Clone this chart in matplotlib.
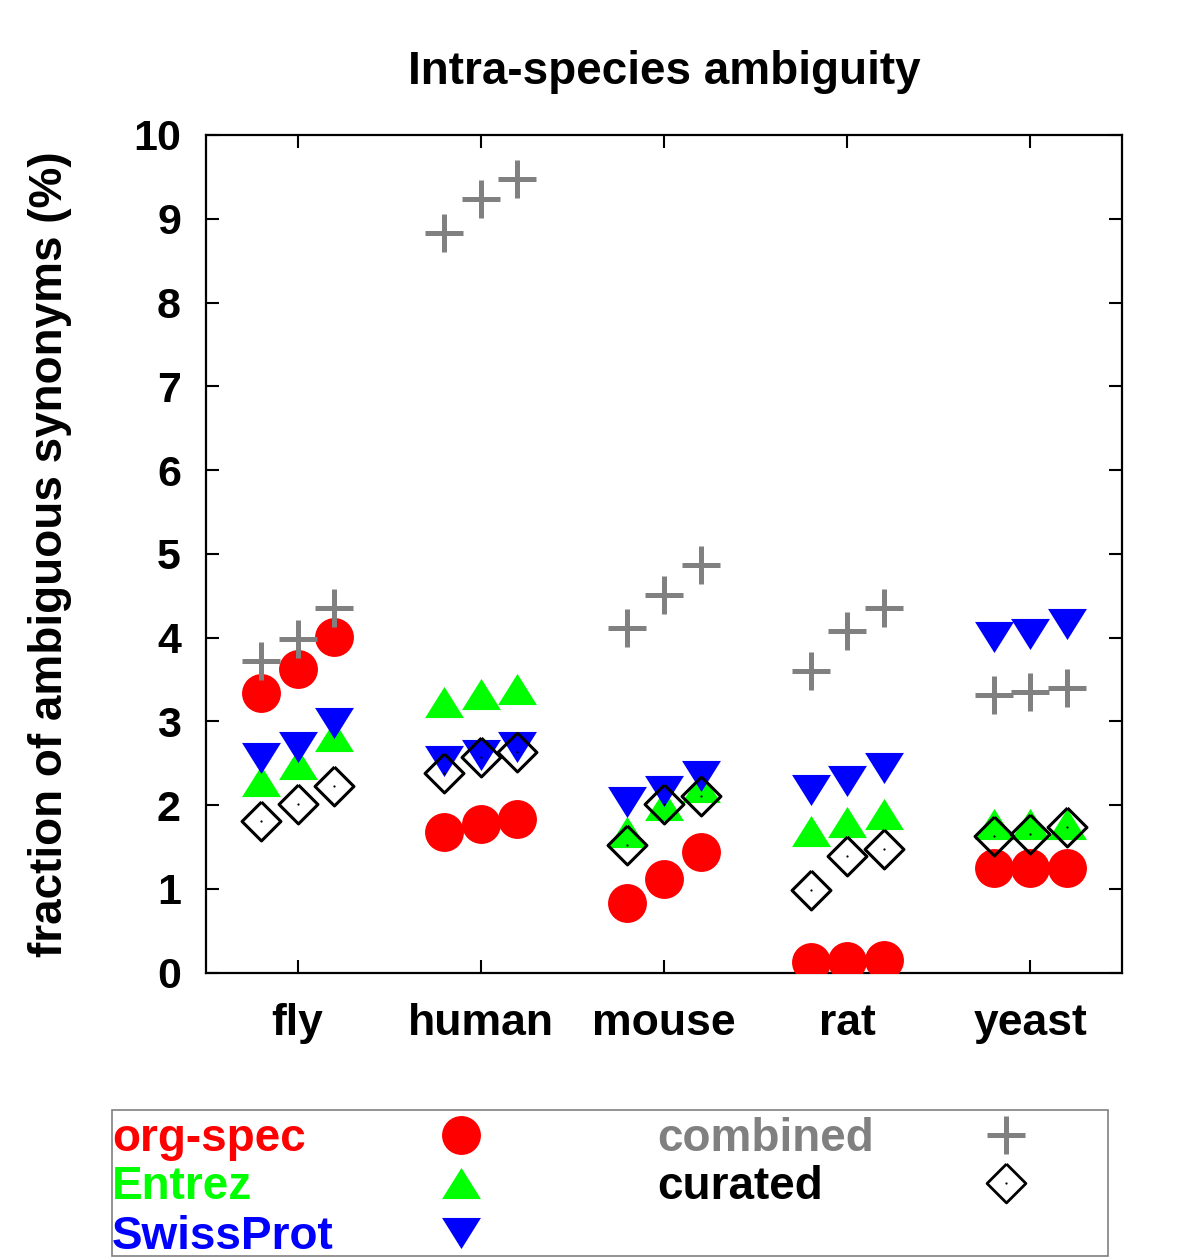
import matplotlib
matplotlib.use("Agg")
import matplotlib.pyplot as plt
import numpy as np
from matplotlib.patches import Rectangle

plt.rcParams['font.family'] = ['Liberation Sans', 'DejaVu Sans']
plt.rcParams['font.weight'] = 'bold'

categories = ["fly", "human", "mouse", "rat", "yeast"]
offsets = [-0.2, 0.0, 0.2]

org_spec = [[3.34, 3.63, 4.01], [1.68, 1.78, 1.83], [0.83, 1.12, 1.44], [0.13, 0.14, 0.15], [1.25, 1.25, 1.25]]
entrez = [[2.29, 2.49, 2.83], [3.23, 3.33, 3.39], [1.68, 2.00, 2.22], [1.69, 1.80, 1.90], [1.77, 1.77, 1.77]]
swissprot = [[2.56, 2.70, 2.98], [2.53, 2.60, 2.69], [2.04, 2.17, 2.35], [2.18, 2.29, 2.44], [4.01, 4.04, 4.16]]
combined = [[3.72, 3.98, 4.35], [8.83, 9.24, 9.48], [4.11, 4.51, 4.87], [3.60, 4.08, 4.35], [3.31, 3.35, 3.40]]
curated = [[1.81, 2.01, 2.23], [2.38, 2.57, 2.64], [1.52, 2.01, 2.11], [0.99, 1.39, 1.48], [1.63, 1.65, 1.74]]

yticks = list(range(0, 11))

TRI_UP = [(-1, -0.8), (1, -0.8), (0, 0.8), (-1, -0.8)]
TRI_DN = [(-1, 0.8), (1, 0.8), (0, -0.8), (-1, 0.8)]
DIAM = [(0, 1), (1, 0), (0, -1), (-1, 0), (0, 1)]

RED, GREEN, BLUE, GRAY = "#ff0000", "#00ff00", "#0000ff", "#808080"

fig = plt.figure(figsize=(12, 12.58), dpi=100)
ax = fig.add_axes([206/1200, 1 - 972.7/1258, (1122-206)/1200, (972.7-135)/1258])

def xs_for(i):
    return [i + 1 + o for o in offsets]

for i in range(len(categories)):
    x = xs_for(i)
    ax.plot(x, org_spec[i], linestyle='none', marker='o', ms=28, mfc=RED, mec='none', zorder=3)
    ax.plot(x, entrez[i], linestyle='none', marker=TRI_UP, ms=28, mfc=GREEN, mec='none', zorder=4)
    ax.plot(x, swissprot[i], linestyle='none', marker=TRI_DN, ms=28, mfc=BLUE, mec='none', zorder=5)
    ax.plot(x, combined[i], linestyle='none', marker='+', ms=28, mew=3.6, mec=GRAY, zorder=6)
    ax.plot(x, curated[i], linestyle='none', marker=DIAM, ms=28, mew=2.2, mfc='none', mec='black', zorder=7)
    ax.plot(x, curated[i], linestyle='none', marker='o', ms=1.6, mfc='black', mec='none', zorder=8)

ax.set_xlim(0.5, 5.5)
ax.set_ylim(0, 10)
ax.set_xticks(range(1, 6))
ax.set_xticklabels(categories)
ax.set_yticks(yticks)
ax.set_yticklabels([str(t) for t in yticks])
ax.tick_params(axis='both', direction='in', length=9.5, width=1.5, top=True, right=True)
ax.tick_params(axis='x', labelsize=32, pad=22)
ax.tick_params(axis='y', labelsize=31, pad=18)
for s in ax.spines.values():
    s.set_linewidth(1.6)
ax.set_title("Intra-species ambiguity", fontsize=33, fontweight='bold', pad=37)
ax.set_ylabel("fraction of ambiguous synonyms (%)", fontsize=33, fontweight='bold', labelpad=44)

# legend drawn in pixel-coordinate overlay
lax = fig.add_axes([0, 0, 1, 1])
lax.set_xlim(0, 1200)
lax.set_ylim(1258, 0)
lax.axis('off')
lax.add_patch(Rectangle((112, 1110), 996, 146, fill=False, edgecolor=GRAY, linewidth=1.2))

leg_left = [("org-spec", RED, 'o', RED), ("Entrez", GREEN, TRI_UP, GREEN), ("SwissProt", BLUE, TRI_DN, BLUE)]
rows_y = [1135, 1183, 1233]
for (lab, col, mk, mcol), yy in zip(leg_left, rows_y):
    lax.text(112, yy + 4, lab, color=col, fontsize=33, fontweight='bold', ha='left', va='center')
    lax.plot([461], [yy], linestyle='none', marker=mk, ms=28, mfc=mcol, mec='none')

lax.text(657, rows_y[0] + 4, "combined", color=GRAY, fontsize=33, fontweight='bold', ha='left', va='center')
lax.plot([1006], [rows_y[0]], linestyle='none', marker='+', ms=28, mew=3.6, mec=GRAY)
lax.text(657, rows_y[1] + 4, "curated", color='black', fontsize=33, fontweight='bold', ha='left', va='center')
lax.plot([1006], [rows_y[1]], linestyle='none', marker=DIAM, ms=28, mew=2.0, mfc='none', mec='black')
lax.plot([1006], [rows_y[1]], linestyle='none', marker='o', ms=1.6, mfc='black', mec='none')

fig.savefig("out.png", dpi=100)
